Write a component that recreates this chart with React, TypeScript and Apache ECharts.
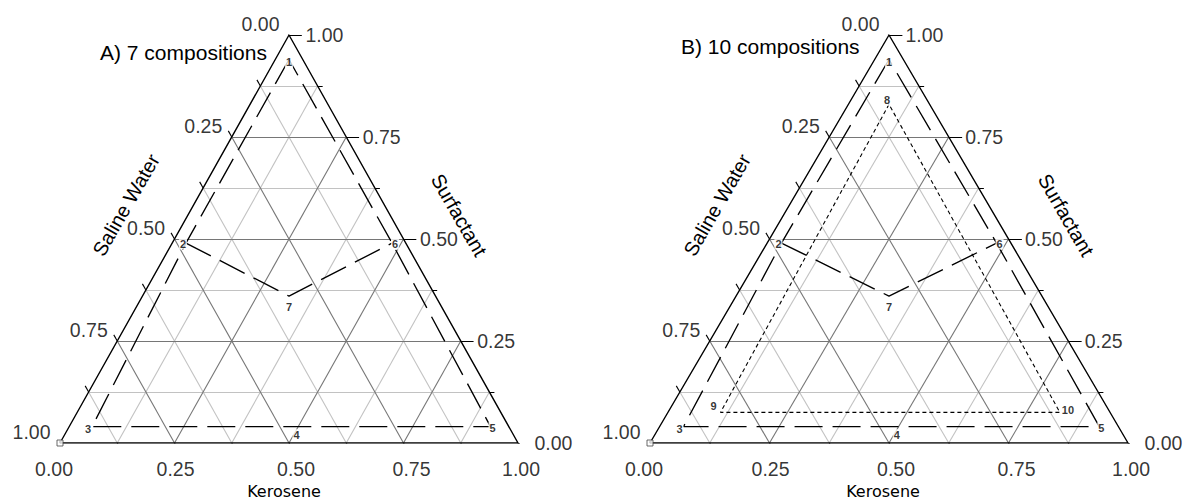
import React, { useEffect, useRef } from "react";
import * as echarts from "echarts";

// ---- data ----
const tickValues = [0, 0.25, 0.5, 0.75, 1];
const tickLabels = ["0.00", "0.25", "0.50", "0.75", "1.00"];
const tickSteps = [0, 0.125, 0.25, 0.375, 0.5, 0.625, 0.75, 0.875, 1];
const majorGridSteps = [0.25, 0.5, 0.75];
const minorGridSteps = [0.125, 0.375, 0.625, 0.875];

const pointIds = ["1", "2", "3", "4", "5", "6", "7", "8", "9", "10"];
const kerosene = [0.03, 0.03, 0.05, 0.49, 0.92, 0.48, 0.32, 0.085, 0.11, 0.82];
const salineWater = [0.03, 0.48, 0.91, 0.47, 0.04, 0.03, 0.32, 0.085, 0.815, 0.105];
const surfactant = [0.94, 0.49, 0.04, 0.04, 0.04, 0.49, 0.36, 0.83, 0.075, 0.075];

const outerBoundary = [1, 2, 3, 4, 5, 6, 1];
const innerCurve = [2, 7, 6];
const dottedBoundary = [8, 9, 10, 8];

const panelTitles = ["A) 7 compositions", "B) 10 compositions"];
const panelPointCounts = [7, 10];
const leftAxisName = "Saline Water";
const rightAxisName = "Surfactant";
const bottomAxisName = "Kerosene";

// ---- styles / layout ----
const FONT = "'Liberation Sans', Arial, sans-serif";
const gridBoxes = [
  { left: 60, top: 35, width: 458, height: 408 },
  { left: 650, top: 35, width: 478, height: 408 },
];
const titlePos = [
  [100, 52.5],
  [681, 46.5],
];
const leftNamePos = [
  [126, 205],
  [717, 205],
];
const rightNamePos = [
  [459, 215],
  [1066, 215],
];
const bottomNamePos = [
  [284, 491],
  [883, 491],
];
const pointLabelOffsets = [
  [0, 3], [-3, 1], [-4, 2], [3, 8], [2, 1], [3, 1], [0, 11], [-2, -4], [-7, -6], [8, -2],
];
const bottomLabelNudge = [-6, 1, 7, 8, 3];

// ternary (K, S) -> cartesian (X, Y); W = 1 - K - S
const toXY = (k: number, s: number) => [k + s / 2, s];

function buildPanelSeries(p: number) {
  const ax = { xAxisIndex: p, yAxisIndex: p };
  const series: any[] = [];

  const gridSegs = (steps: number[]) => {
    const segs: any[] = [];
    steps.forEach((v) => {
      segs.push({ coords: [toXY(0, v), toXY(1 - v, v)] });
      segs.push({ coords: [toXY(v, 0), toXY(v, 1 - v)] });
      segs.push({ coords: [toXY(1 - v, 0), toXY(0, 1 - v)] });
    });
    return segs;
  };

  series.push({
    type: "lines",
    coordinateSystem: "cartesian2d",
    ...ax,
    silent: true,
    polyline: false,
    z: 1,
    lineStyle: { color: "#c2c2c2", width: 1.1, opacity: 1, curveness: 0 },
    data: gridSegs(minorGridSteps),
  });
  series.push({
    type: "lines",
    coordinateSystem: "cartesian2d",
    ...ax,
    silent: true,
    polyline: false,
    z: 2,
    lineStyle: { color: "#767676", width: 1.1, opacity: 1, curveness: 0 },
    data: gridSegs(majorGridSteps),
  });

  // ticks
  const tickSegs: any[] = [];
  const dLB = 0.015;
  tickSteps.forEach((v, i) => {
    const major = i % 2 === 0;
    tickSegs.push({ coords: [toXY(0, 1 - v), toXY(-dLB, 1 - v + dLB)] });
    tickSegs.push({ coords: [toXY(v, 0), toXY(v + dLB, -dLB)] });
    const dR = major ? 0.028 : 0.011;
    tickSegs.push({ coords: [toXY(1 - v, v), toXY(1 - v + dR, v)] });
  });
  series.push({
    type: "lines",
    coordinateSystem: "cartesian2d",
    ...ax,
    silent: true,
    polyline: false,
    z: 4,
    lineStyle: { color: "#000", width: 1.1, opacity: 1, curveness: 0 },
    data: tickSegs,
  });

  // border
  series.push({
    type: "line",
    ...ax,
    silent: true,
    symbol: "none",
    z: 5,
    lineStyle: { color: "#000", width: 1.4 },
    data: [toXY(0, 0), toXY(1, 0), toXY(0, 1), toXY(0, 0)],
  });

  const pathOf = (ids: number[]) =>
    ids.map((id) => toXY(kerosene[id - 1], surfactant[id - 1]));

  series.push({
    type: "line",
    ...ax,
    silent: true,
    symbol: "none",
    z: 6,
    lineStyle: { color: "#000", width: 1.35, type: [28, 10] },
    data: pathOf(outerBoundary),
  });
  series.push({
    type: "line",
    ...ax,
    silent: true,
    symbol: "none",
    z: 6,
    lineStyle: { color: "#000", width: 1.35, type: [28, 10] },
    data: pathOf(innerCurve),
  });
  if (panelPointCounts[p] >= 10) {
    series.push({
      type: "line",
      ...ax,
      silent: true,
      symbol: "none",
      z: 6,
      lineStyle: { color: "#000", width: 1.1, type: [4, 3] },
      data: pathOf(dottedBoundary),
    });
  }

  // point labels
  const pts: any[] = [];
  for (let i = 0; i < panelPointCounts[p]; i++) {
    pts.push({
      name: pointIds[i],
      value: toXY(kerosene[i], surfactant[i]),
      label: { offset: pointLabelOffsets[i] },
    });
  }
  series.push({
    type: "scatter",
    ...ax,
    silent: true,
    symbolSize: 1,
    itemStyle: { color: "transparent" },
    z: 10,
    label: {
      show: true,
      position: "inside",
      formatter: (q: any) => q.name,
      fontSize: 11,
      fontWeight: "bold",
      fontFamily: FONT,
      color: "#000",
      backgroundColor: "#fff",
      padding: [0, 1],
    },
    data: pts,
  });

  // tick labels
  const labelStyle = { show: true, fontSize: 19.5, fontFamily: FONT, color: "#000", formatter: (q: any) => q.name };
  series.push({
    type: "scatter",
    ...ax,
    silent: true,
    symbolSize: 1,
    itemStyle: { color: "transparent" },
    z: 10,
    label: { ...labelStyle, position: "left", distance: 9, offset: [0, -11.5] },
    data: tickValues.map((w, i) => ({ name: tickLabels[i], value: toXY(0, 1 - w) })),
  });
  series.push({
    type: "scatter",
    ...ax,
    silent: true,
    symbolSize: 1,
    itemStyle: { color: "transparent" },
    z: 10,
    label: { ...labelStyle, position: "right", distance: 16 },
    data: tickValues.map((s, i) => ({ name: tickLabels[i], value: toXY(1 - s, s) })),
  });
  series.push({
    type: "scatter",
    ...ax,
    silent: true,
    symbolSize: 1,
    itemStyle: { color: "transparent" },
    z: 10,
    label: { ...labelStyle, position: "bottom", distance: 15 },
    data: tickValues.map((k, i) => ({
      name: tickLabels[i],
      value: toXY(k, 0),
      label: { offset: [bottomLabelNudge[i], 0] },
    })),
  });

  // corner marker
  series.push({
    type: "scatter",
    ...ax,
    silent: true,
    symbol: "rect",
    symbolSize: 6,
    z: 7,
    itemStyle: { color: "#fff", borderColor: "#444", borderWidth: 1 },
    data: [toXY(0, 0)],
  });

  return series;
}

export default function App() {
  const ref = useRef<HTMLDivElement>(null);
  useEffect(() => {
    if (!ref.current) return;
    const chart = echarts.init(ref.current, undefined, { renderer: "svg" });
    const grids = gridBoxes.map((g) => ({ ...g, containLabel: false, show: false }));
    const xAxes = gridBoxes.map((_, i) => ({ type: "value", gridIndex: i, min: 0, max: 1, show: false }));
    const yAxes = gridBoxes.map((_, i) => ({ type: "value", gridIndex: i, min: 0, max: 1, show: false }));
    const series = [...buildPanelSeries(0), ...buildPanelSeries(1)];

    const graphic: any[] = [];
    [0, 1].forEach((p) => {
      graphic.push({
        type: "text",
        x: titlePos[p][0],
        y: titlePos[p][1],
        style: { text: panelTitles[p], fontSize: 21, fontFamily: FONT, fill: "#000", align: "left", verticalAlign: "middle" },
      });
      graphic.push({
        type: "text",
        x: leftNamePos[p][0],
        y: leftNamePos[p][1],
        rotation: Math.PI / 3,
        style: { text: leftAxisName, fontSize: 20, fontFamily: FONT, fill: "#000", align: "center", verticalAlign: "middle" },
      });
      graphic.push({
        type: "text",
        x: rightNamePos[p][0],
        y: rightNamePos[p][1],
        rotation: -Math.PI / 3,
        style: { text: rightAxisName, fontSize: 20, fontFamily: FONT, fill: "#000", align: "center", verticalAlign: "middle" },
      });
      graphic.push({
        type: "text",
        x: bottomNamePos[p][0],
        y: bottomNamePos[p][1],
        style: { text: bottomAxisName, fontSize: 16, fontFamily: "'DejaVu Sans', sans-serif", fill: "#000", align: "center", verticalAlign: "middle" },
      });
    });

    chart.setOption({
      animation: false,
      backgroundColor: "#fff",
      grid: grids,
      xAxis: xAxes,
      yAxis: yAxes,
      series,
      graphic,
    });
    return () => chart.dispose();
  }, []);
  return (
    <div
      ref={ref}
      style={{ position: "fixed", left: 0, top: 0, width: 1187, height: 499, background: "#fff" }}
    />
  );
}
